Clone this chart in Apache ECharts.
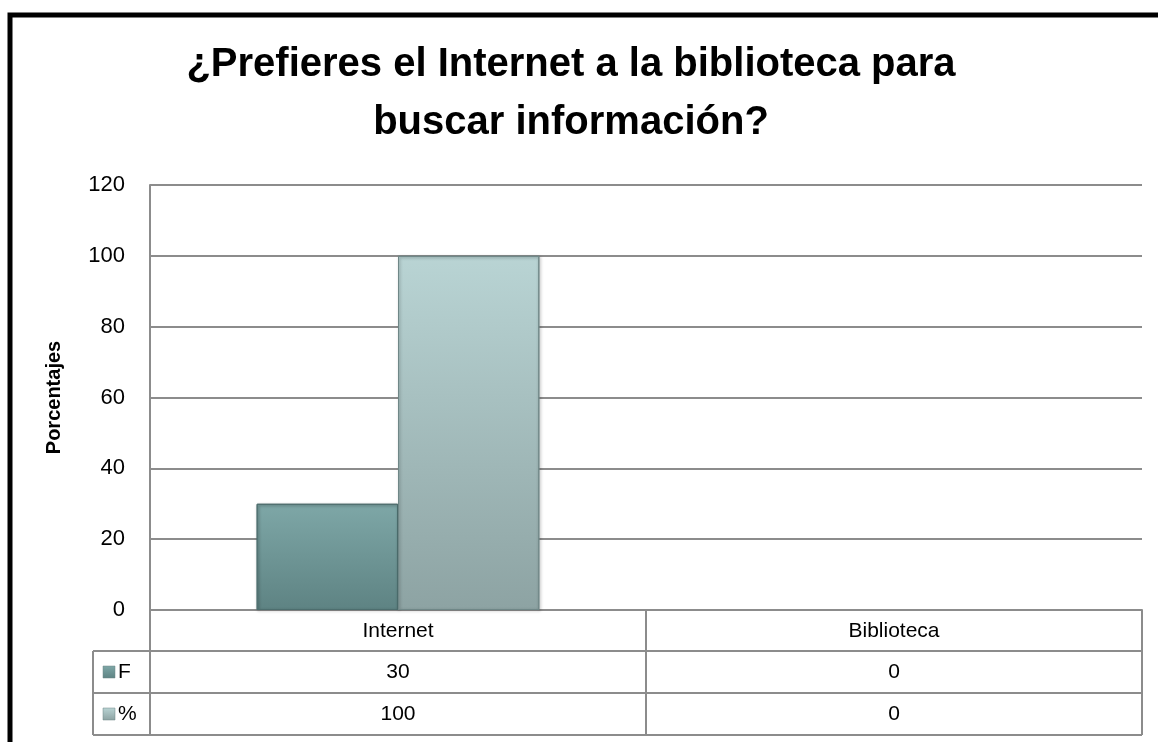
<!DOCTYPE html>
<html>
<head>
<meta charset="utf-8">
<script src="https://cdn.jsdelivr.net/npm/echarts@6/dist/echarts.min.js"></script>
<style>
  html, body { margin: 0; padding: 0; background: #fff; }
  #chart { width: 1158px; height: 742px; }
</style>
</head>
<body>
<div id="chart"></div>
<script>
// datos
const categories = ['Internet', 'Biblioteca'];
const seriesNames = ['F', '%'];
const valuesF = [30, 0];
const valuesPct = [100, 0];
const yMin = 0, yMax = 120, yStep = 20;

const FONT = '"Liberation Sans", Arial, sans-serif';
const lineColor = '#8c8c8c';

// colores de las barras (degradado)
function gradF() {
  return new echarts.graphic.LinearGradient(0, 0, 0, 1, [
    { offset: 0, color: '#7ea7a7' },
    { offset: 1, color: '#5e8383' }
  ]);
}
function gradPct() {
  return new echarts.graphic.LinearGradient(0, 0, 0, 1, [
    { offset: 0, color: '#b9d4d4' },
    { offset: 1, color: '#8da3a3' }
  ]);
}

// las barras con valor 0 no se dibujan con borde ni sombra
function barData(values, border) {
  return values.map(function (v) {
    if (v === 0) {
      return { value: v, itemStyle: { borderWidth: 0, shadowBlur: 0, shadowOffsetX: 0, shadowOffsetY: 0, opacity: 0 } };
    }
    return { value: v, itemStyle: { borderColor: border } };
  });
}

let chart = echarts.init(document.getElementById('chart'));

let option = {
  animation: false,
  backgroundColor: '#fff',
  title: {
    text: '¿Prefieres el Internet a la biblioteca para\nbuscar información?',
    left: 571,
    textAlign: 'center',
    top: 36,
    padding: 0,
    textStyle: {
      fontFamily: FONT,
      fontWeight: 'bold',
      fontSize: 40,
      lineHeight: 58,
      color: '#000'
    }
  },
  grid: {
    left: 150,
    top: 185,
    right: 16,
    bottom: 132,
    containLabel: false
  },
  xAxis: {
    type: 'category',
    data: categories,
    axisLine: { show: true, lineStyle: { color: lineColor, width: 2 } },
    axisTick: { show: true, length: 124, lineStyle: { color: lineColor, width: 2 } },
    axisLabel: {
      fontFamily: FONT,
      fontSize: 21,
      color: '#000',
      margin: 11
    }
  },
  yAxis: {
    type: 'value',
    min: yMin,
    max: yMax,
    interval: yStep,
    name: 'Porcentajes',
    nameLocation: 'middle',
    nameRotate: 90,
    nameGap: 86,
    nameTextStyle: {
      fontFamily: FONT,
      fontWeight: 'bold',
      fontSize: 20,
      color: '#000'
    },
    axisLine: { show: true, lineStyle: { color: lineColor, width: 2 } },
    axisTick: { show: false },
    axisLabel: {
      fontFamily: FONT,
      fontSize: 22,
      color: '#000',
      margin: 25
    },
    splitLine: { show: true, lineStyle: { color: lineColor, width: 2 } }
  },
  series: [
    {
      name: seriesNames[0],
      type: 'bar',
      data: barData(valuesF, '#4d6e6e'),
      barGap: '0%',
      barCategoryGap: '43%',
      itemStyle: {
        color: gradF(),
        borderWidth: 1,
        shadowColor: 'rgba(0,0,0,0.35)',
        shadowBlur: 3,
        shadowOffsetX: 1,
        shadowOffsetY: 1
      }
    },
    {
      name: seriesNames[1],
      type: 'bar',
      data: barData(valuesPct, '#6f8787'),
      itemStyle: {
        color: gradPct(),
        borderWidth: 1,
        shadowColor: 'rgba(0,0,0,0.35)',
        shadowBlur: 3,
        shadowOffsetX: 1,
        shadowOffsetY: 1
      }
    }
  ]
};

chart.setOption(option);

// tabla de datos debajo del eje
function buildTable() {
  const zeroY = chart.convertToPixel({ yAxisIndex: 0 }, 0);
  const rightX = 1142;
  const headH = 41, rowH = 42;
  const legendLeft = 93;
  const rows = [valuesF, valuesPct];
  const grads = [gradF, gradPct];
  let els = [];

  // marco negro exterior
  els.push({
    type: 'polyline',
    shape: { points: [[10, 760], [10, 15], [1170, 15]] },
    style: { stroke: '#000', lineWidth: 5, fill: null }
  });

  for (let r = 0; r < rows.length; r++) {
    const y0 = zeroY + headH + r * rowH;
    const y1 = y0 + rowH;
    // lineas horizontales
    els.push({ type: 'line', shape: { x1: legendLeft, y1: y0, x2: rightX, y2: y0 },
      style: { stroke: lineColor, lineWidth: 2 } });
    els.push({ type: 'line', shape: { x1: legendLeft, y1: y1, x2: rightX, y2: y1 },
      style: { stroke: lineColor, lineWidth: 2 } });
    // llave de leyenda
    els.push({ type: 'rect', shape: { x: legendLeft + 10, y: y0 + rowH / 2 - 6, width: 12, height: 12 },
      style: { fill: grads[r](), stroke: '#6f8787', lineWidth: 0.5 } });
    els.push({ type: 'text', x: legendLeft + 25, y: y0 + rowH / 2,
      style: { text: seriesNames[r], font: '21px ' + FONT, fill: '#000', verticalAlign: 'middle' } });
    // valores
    for (let c = 0; c < categories.length; c++) {
      const cx = chart.convertToPixel({ xAxisIndex: 0 }, categories[c]);
      els.push({ type: 'text', x: cx, y: y0 + rowH / 2,
        style: { text: String(rows[r][c]), font: '21px ' + FONT, fill: '#000',
          align: 'center', verticalAlign: 'middle' } });
    }
  }
  // lineas verticales de la columna de leyenda
  const yTop = zeroY + headH, yBot = zeroY + headH + rows.length * rowH;
  els.push({ type: 'line', shape: { x1: legendLeft, y1: yTop, x2: legendLeft, y2: yBot },
    style: { stroke: lineColor, lineWidth: 2 } });
  els.push({ type: 'line', shape: { x1: rightX, y1: zeroY, x2: rightX, y2: yBot },
    style: { stroke: lineColor, lineWidth: 2 } });

  chart.setOption({ graphic: els });
}

buildTable();
</script>
</body>
</html>
